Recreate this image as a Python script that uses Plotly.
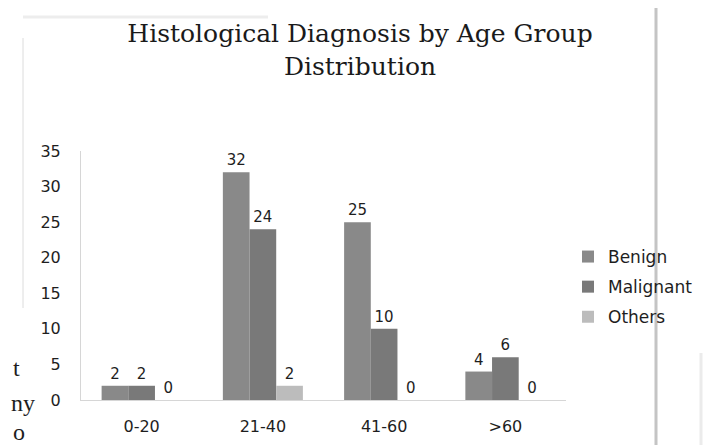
import plotly.graph_objects as go

categories = ["0-20", "21-40", "41-60", ">60"]
benign = [2, 32, 25, 4]
malignant = [2, 24, 10, 6]
others = [0, 2, 0, 0]
y_ticks = [0, 5, 10, 15, 20, 25, 30, 35]

series = [
    ("Benign", benign, "#898989"),
    ("Malignant", malignant, "#797979"),
    ("Others", others, "#bcbcbc"),
]

W, H = 723, 445
L, R, T, B = 73, 165, 143, 53
PW, PH = W - L - R, H - T - B


def px(x):
    return (x - L) / PW


def py(y):
    return (H - B - y) / PH


fig = go.Figure()
for name, vals, col in series:
    fig.add_trace(go.Bar(
        x=categories, y=vals, name=name, marker_color=col,
        marker_line_width=0,
        text=[str(v) for v in vals], textposition="outside",
        textfont=dict(family="DejaVu Sans", size=15, color="#1e1e1e"),
        cliponaxis=False, legendgroup=name,
    ))

fig.update_layout(
    width=W, height=H,
    paper_bgcolor="white", plot_bgcolor="white",
    barmode="group", bargap=0.34, bargroupgap=0,
    margin=dict(l=L, r=R, t=T, b=B),
    title=dict(
        text="Histological Diagnosis by Age Group<br>Distribution",
        font=dict(family="DejaVu Serif", size=25, color="#1a1a1a"),
        x=352 / W, xanchor="center", xref="container",
        y=1 - 34 / H, yanchor="top", yref="container",
    ),
    showlegend=True,
    legend=dict(
        x=px(560), xanchor="left", y=py(231), yanchor="top",
        font=dict(family="DejaVu Sans", size=17, color="#1e1e1e"),
        tracegroupgap=5, bgcolor="rgba(0,0,0,0)",
    ),
    xaxis=dict(
        showline=True, linecolor="#d6d6d6", linewidth=1,
        ticks="", showgrid=False, ticklabelstandoff=12,
        tickfont=dict(family="DejaVu Sans", size=16, color="#1e1e1e"),
    ),
    yaxis=dict(
        range=[0, 35], tickvals=y_ticks, showgrid=False,
        showline=True, linecolor="#d6d6d6", linewidth=1,
        ticks="", zeroline=False, ticklabelstandoff=16,
        tickfont=dict(family="DejaVu Sans", size=16, color="#1e1e1e"),
    ),
)

# scan artifacts: page border lines and text fragments from the page edge
fig.add_shape(type="line", xref="paper", yref="paper", x0=px(15), x1=px(15), y0=py(300), y1=py(30),
              line=dict(color="#dcdcdc", width=1))
fig.add_shape(type="line", xref="paper", yref="paper", x0=px(15), x1=px(260), y0=py(9), y1=py(9),
              line=dict(color="#ededed", width=3))
fig.add_shape(type="line", xref="paper", yref="paper", x0=px(648), x1=px(648), y0=py(445), y1=py(0),
              line=dict(color="#c4c4c4", width=3))
fig.add_shape(type="line", xref="paper", yref="paper", x0=px(693), x1=px(693), y0=py(445), y1=py(345),
              line=dict(color="#ebebeb", width=3))
for txt, yy, xl in [("t", 360, 3), ("ny", 395, 1), ("o", 424, 3)]:
    fig.add_annotation(text=txt, xref="paper", yref="paper", x=px(xl), xanchor="left",
                       y=py(yy), yanchor="middle", showarrow=False,
                       font=dict(family="Liberation Serif", size=24, color="#1e1e1e"))

fig.write_html("out.html")
